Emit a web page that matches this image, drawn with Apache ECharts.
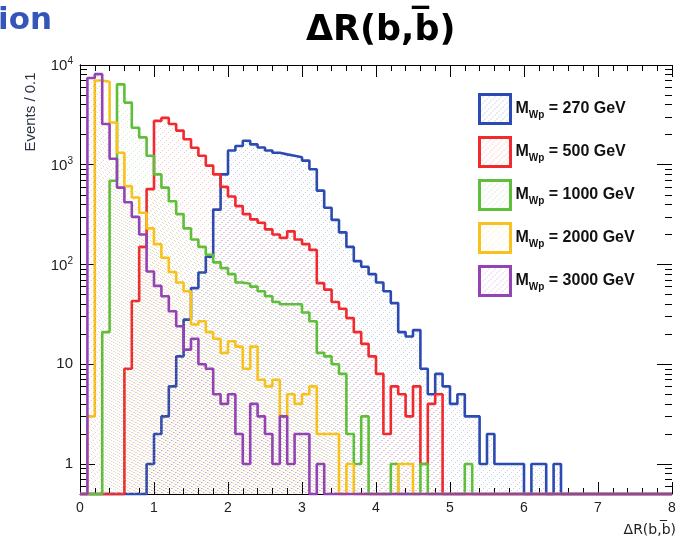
<!DOCTYPE html>
<html>
<head>
<meta charset="utf-8">
<title>ΔR(b,b̅)</title>
<script src="https://cdn.jsdelivr.net/npm/echarts@6/dist/echarts.min.js"></script>
<style>
  html, body { margin: 0; padding: 0; background: #fff; }
  #chart { width: 681px; height: 547px; }
</style>
</head>
<body>
<div id="chart"></div>
<script>
// Histogram binning: 80 bins of width 0.1 over 0 < ΔR < 8
const binWidth = 0.1;
const xTicks = [0, 1, 2, 3, 4, 5, 6, 7, 8];
const yTicks = [1, 10, 100, 1000, 10000];
const yMinorTicks = [0.6, 0.7, 0.8, 0.9,
  2, 3, 4, 5, 6, 7, 8, 9,
  20, 30, 40, 50, 60, 70, 80, 90,
  200, 300, 400, 500, 600, 700, 800, 900,
  2000, 3000, 4000, 5000, 6000, 7000, 8000, 9000];
const masses = ['270', '500', '1000', '2000', '3000'];

// Events per bin, one array per W' mass hypothesis
const mwp270 = [
  0, 0, 0, 0, 0, 0, 0, 0, 0, 1,
  2, 3, 6, 12, 28, 58, 83, 120, 355, 800,
  1390, 1540, 1740, 1600, 1490, 1390, 1320, 1270, 1230, 1190,
  1100, 900, 550, 370, 280, 210, 150, 108, 95, 80,
  66, 54, 41, 21, 19, 22, 9, 5, 8, 6,
  4, 5, 3, 3, 1, 2, 1, 1, 1, 1,
  0, 1, 1, 0, 1, 0, 0, 0, 0, 0,
  0, 0, 0, 0, 0, 0, 0, 0, 0, 0
];
const mwp500 = [
  0, 0, 0, 0, 0, 0, 9, 43, 150, 570,
  2750, 2950, 2560, 2200, 1800, 1480, 1230, 980, 800, 600,
  480, 385, 320, 283, 262, 225, 200, 185, 215, 178,
  160, 140, 65, 56, 42, 36, 29, 21, 16, 12,
  8, 2, 6, 5, 3, 6, 1, 4, 5, 0,
  0, 0, 0, 0, 0, 0, 0, 0, 0, 0,
  0, 0, 0, 0, 0, 0, 0, 0, 0, 0,
  0, 0, 0, 0, 0, 0, 0, 0, 0, 0
];
const mwp1000 = [
  0, 0, 0, 21, 690, 6400, 4200, 2350, 1880, 1230,
  800, 590, 430, 320, 230, 178, 150, 125, 105, 92,
  80, 66, 64, 60, 54, 48, 42, 40, 40, 40,
  33, 27, 13, 12, 10, 8, 2, 1, 3, 0,
  0, 0, 1, 0, 0, 0, 1, 0, 0, 0,
  0, 0, 1, 0, 0, 0, 0, 0, 0, 0,
  0, 0, 0, 0, 0, 0, 0, 0, 0, 0,
  0, 0, 0, 0, 0, 0, 0, 0, 0, 0
];
const mwp2000 = [
  0, 3, 7000, 6800, 2650, 1320, 610, 470, 330, 230,
  160, 117, 84, 66, 54, 25, 27, 21, 18, 13,
  17, 15, 9, 15, 7, 6, 7, 3, 5, 4,
  5, 6, 2, 2, 2, 0, 1, 0, 0, 0,
  0, 0, 0, 1, 1, 0, 0, 0, 0, 0,
  0, 0, 0, 0, 0, 0, 0, 0, 0, 0,
  0, 0, 0, 0, 0, 0, 0, 0, 0, 0,
  0, 0, 0, 0, 0, 0, 0, 0, 0, 0
];
const mwp3000 = [
  0, 7400, 8100, 2560, 1150, 590, 420, 300, 200, 85,
  61, 48, 34, 24, 14, 18, 10, 9, 5, 4,
  5, 2, 1, 4, 3, 2, 1, 3, 1, 2,
  2, 0, 1, 0, 0, 0, 0, 0, 0, 0,
  0, 0, 0, 0, 0, 0, 0, 0, 0, 0,
  0, 0, 0, 0, 0, 0, 0, 0, 0, 0,
  0, 0, 0, 0, 0, 0, 0, 0, 0, 0,
  0, 0, 0, 0, 0, 0, 0, 0, 0, 0
];

const counts = [mwp270, mwp500, mwp1000, mwp2000, mwp3000];
const colors = ['#2b4bb2', '#f02a2e', '#5fbf3a', '#f7c21e', '#9343b4'];

const yFloor = 0.5;   // empty bins sit on the bottom of the log frame
const yCeil = 10000;

// Bin edges with the bin content, closed by the right edge of the last bin
function histSteps(values) {
  const pts = values.map((c, i) => [+(i * binWidth).toFixed(1), c > 0 ? c : yFloor]);
  const last = values[values.length - 1];
  pts.push([+(values.length * binWidth).toFixed(1), last > 0 ? last : yFloor]);
  return pts;
}

// Faint dotted diagonal hatch; each sample gets its own phase so fills do not stack
function hatch(color, phase) {
  const c = document.createElement('canvas');
  c.width = 6; c.height = 6;
  const g = c.getContext('2d');
  g.fillStyle = color;
  g.globalAlpha = 0.38;
  for (let k = 0; k < 3; k++) {
    g.fillRect((5 - 2 * k + phase + 6) % 6, (2 * k + (phase >> 1)) % 6, 1, 1);
  }
  return { image: c, repeat: 'repeat' };
}

const series = masses.map((m, i) => ({
  name: m,
  type: 'line',
  step: 'end',
  data: histSteps(counts[i]),
  symbol: 'none',
  showSymbol: false,
  clip: false,
  z: 2 + i,
  lineStyle: { color: colors[i], width: 2.6 },
  itemStyle: { color: colors[i] },
  areaStyle: { origin: 'start', color: hatch(colors[i], i) },
  emphasis: { disabled: true },
  animation: false
}));

const sans = 'Liberation Sans, Arial, sans-serif';

function yLabel(v) {
  const e = Math.round(Math.log10(v));
  if (e === 0) return '{b|1}';
  if (e === 1) return '{b|10}';
  return '{b|10}{s|' + e + '}';
}

const xAxisBase = {
  type: 'value', min: 0, max: 8, interval: 1,
  axisLine: { show: true, lineStyle: { color: '#000', width: 1 } },
  axisTick: { show: true, inside: true, length: 12, lineStyle: { color: '#000', width: 1 } },
  minorTick: { show: true, splitNumber: 5, length: 6, lineStyle: { color: '#000', width: 1 } },
  splitLine: { show: false },
  minorSplitLine: { show: false }
};

const yAxisBase = {
  type: 'log', logBase: 10, min: yFloor, max: yCeil,
  axisLine: { show: false },
  axisLabel: { show: false },
  axisTick: { show: false },
  splitLine: { show: false }
};

// Tick-only log axis drawn inside the frame on one side
function tickAxis(side, values, len) {
  return Object.assign({}, yAxisBase, {
    position: side,
    axisTick: { show: true, inside: true, length: len, customValues: values, lineStyle: { color: '#000', width: 1 } }
  });
}

const chart = echarts.init(document.getElementById('chart'), null, { renderer: 'canvas' });

chart.setOption({
  backgroundColor: '#fff',
  animation: false,
  title: {
    text: 'ΔR(b,b\u0305)',
    left: 301, top: 8,
    textStyle: { fontFamily: 'DejaVu Sans', fontWeight: 'bold', fontSize: 35, color: '#000' }
  },
  grid: { left: 80, right: 9, top: 65, bottom: 53, containLabel: false },
  xAxis: [
    Object.assign({}, xAxisBase, {
      position: 'bottom',
      axisLabel: {
        show: true, margin: 7, fontFamily: sans, fontSize: 14, color: '#222',
        customValues: xTicks
      },
      name: 'ΔR(b,b\u0305)',
      nameLocation: 'end',
      nameGap: 4,
      nameTextStyle: {
        fontFamily: 'DejaVu Sans', fontSize: 14, color: '#222',
        align: 'right', verticalAlign: 'top', padding: [29, 0, 0, 0]
      }
    }),
    Object.assign({}, xAxisBase, { position: 'top', axisLabel: { show: false } })
  ],
  yAxis: [
    // labelled left axis and frame line
    Object.assign({}, yAxisBase, {
      position: 'left',
      axisLine: { show: true, lineStyle: { color: '#000', width: 1 } },
      axisLabel: {
        show: true, margin: 7, customValues: yTicks, formatter: yLabel,
        rich: {
          b: { fontFamily: sans, fontSize: 15, color: '#222', verticalAlign: 'bottom' },
          s: { fontFamily: sans, fontSize: 10, color: '#222', verticalAlign: 'bottom', padding: [0, 0, 7, 0] }
        }
      }
    }),
    // right frame line
    Object.assign({}, yAxisBase, {
      position: 'right',
      axisLine: { show: true, lineStyle: { color: '#000', width: 1 } }
    }),
    tickAxis('left', yTicks, 15),
    tickAxis('right', yTicks, 15),
    tickAxis('left', yMinorTicks, 7),
    tickAxis('right', yMinorTicks, 7)
  ],
  legend: {
    orient: 'vertical',
    left: 478, top: 93,
    padding: 0,
    itemWidth: 31, itemHeight: 29, itemGap: 11,
    icon: 'rect',
    selectedMode: false,
    data: masses.map((m, i) => ({
      name: m,
      itemStyle: { color: hatch(colors[i], i), borderColor: colors[i], borderWidth: 3 }
    })),
    formatter: m => '{m|M}{w|Wp}{t| = ' + m + ' GeV}',
    textStyle: {
      rich: {
        m: { fontFamily: sans, fontWeight: 'bold', fontSize: 16, color: '#111', verticalAlign: 'bottom' },
        w: { fontFamily: sans, fontWeight: 'bold', fontSize: 10, color: '#111', verticalAlign: 'bottom', padding: [0, 0, -3, 0] },
        t: { fontFamily: sans, fontWeight: 'bold', fontSize: 16, color: '#111', verticalAlign: 'bottom' }
      }
    }
  },
  graphic: [
    {
      type: 'text', left: -2, top: 5,
      style: { text: 'ion', fontFamily: 'DejaVu Sans', fontWeight: 'bold', fontSize: 31, fill: '#3556b8' }
    },
    {
      type: 'text', x: 31, y: 112, rotation: Math.PI / 2,
      style: {
        text: 'Events / 0.1', fontFamily: sans, fontSize: 15, fill: '#2b3345',
        align: 'center', verticalAlign: 'middle'
      }
    }
  ],
  series: series
});
</script>
</body>
</html>
